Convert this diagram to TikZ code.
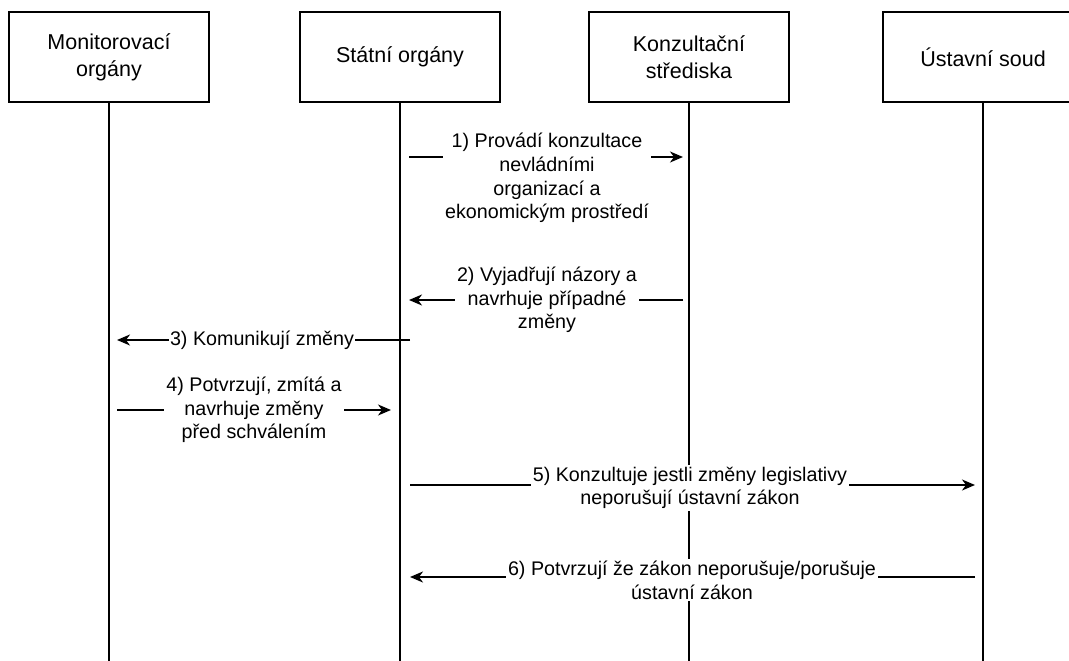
\documentclass[tikz,border=0pt]{standalone}
\usepackage{fontspec}
\setmainfont{Liberation Sans}
\usetikzlibrary{arrows.meta}
\begin{document}
\begin{tikzpicture}[x=1pt,y=-1pt,
  actor/.style={draw, line width=1.5pt, minimum width=200pt, minimum height=90pt, align=center, inner sep=0pt, font=\fontsize{21.5}{27}\selectfont},
  life/.style={line width=1.5pt},
  msg/.style={line width=1.5pt, -{Stealth[length=13pt,width=11pt,inset=4pt]}},
  lab/.style={fill=white, inner sep=2pt, align=center, font=\fontsize{19.7}{23.7}\selectfont}]
\useasboundingbox (0,0) rectangle (1069,661);
% actors
\node[actor] (mon) at (109,57) {Monitorovací\\orgány};
\node[actor] (sta) at (400,57) {Státní orgány};
\node[actor] (kon) at (689,57) {Konzultační\\střediska};
\node[actor] (ust) at (983,57) {Ústavní soud};
% lifelines
\coordinate (monE) at (109,661);
\coordinate (staE) at (400,661);
\coordinate (konE) at (689,661);
\coordinate (ustE) at (983,661);
\draw[life] (mon.south) -- (monE);
\draw[life] (sta.south) -- (staE);
\draw[life] (kon.south) -- (konE);
\draw[life] (ust.south) -- (ustE);
% message 1
\coordinate (m1a) at (409,157); \coordinate (m1b) at (683,157);
\draw[msg] (m1a) -- (m1b);
\node[lab] (l1) at (547,178) {1) Provádí konzultace\\nevládními\\organizací a\\ekonomickým prostředí};
% message 2
\coordinate (m2a) at (683,300); \coordinate (m2b) at (409,300);
\draw[msg] (m2a) -- (m2b);
\node[lab] (l2) at (547,300) {2) Vyjadřují názory a\\navrhuje případné\\změny};
% message 3
\coordinate (m3a) at (410,340); \coordinate (m3b) at (117,340);
\draw[msg] (m3a) -- (m3b);
\node[lab, inner sep=1pt] (l3) at (262,340) {3) Komunikují změny};
% message 4
\coordinate (m4a) at (117,410); \coordinate (m4b) at (391,410);
\draw[msg] (m4a) -- (m4b);
\node[lab] (l4) at (254,410) {4) Potvrzují, zmítá a\\navrhuje změny\\před schválením};
% message 5
\coordinate (m5a) at (410,485); \coordinate (m5b) at (975,485);
\draw[msg] (m5a) -- (m5b);
\node[lab] (l5) at (690,488) {5) Konzultuje jestli změny legislativy\\neporušují ústavní zákon};
% message 6
\coordinate (m6a) at (975,577); \coordinate (m6b) at (410,577);
\draw[msg] (m6a) -- (m6b);
\node[lab] (l6) at (692,580) {6) Potvrzují že zákon neporušuje/porušuje\\ústavní zákon};
\end{tikzpicture}
\end{document}
